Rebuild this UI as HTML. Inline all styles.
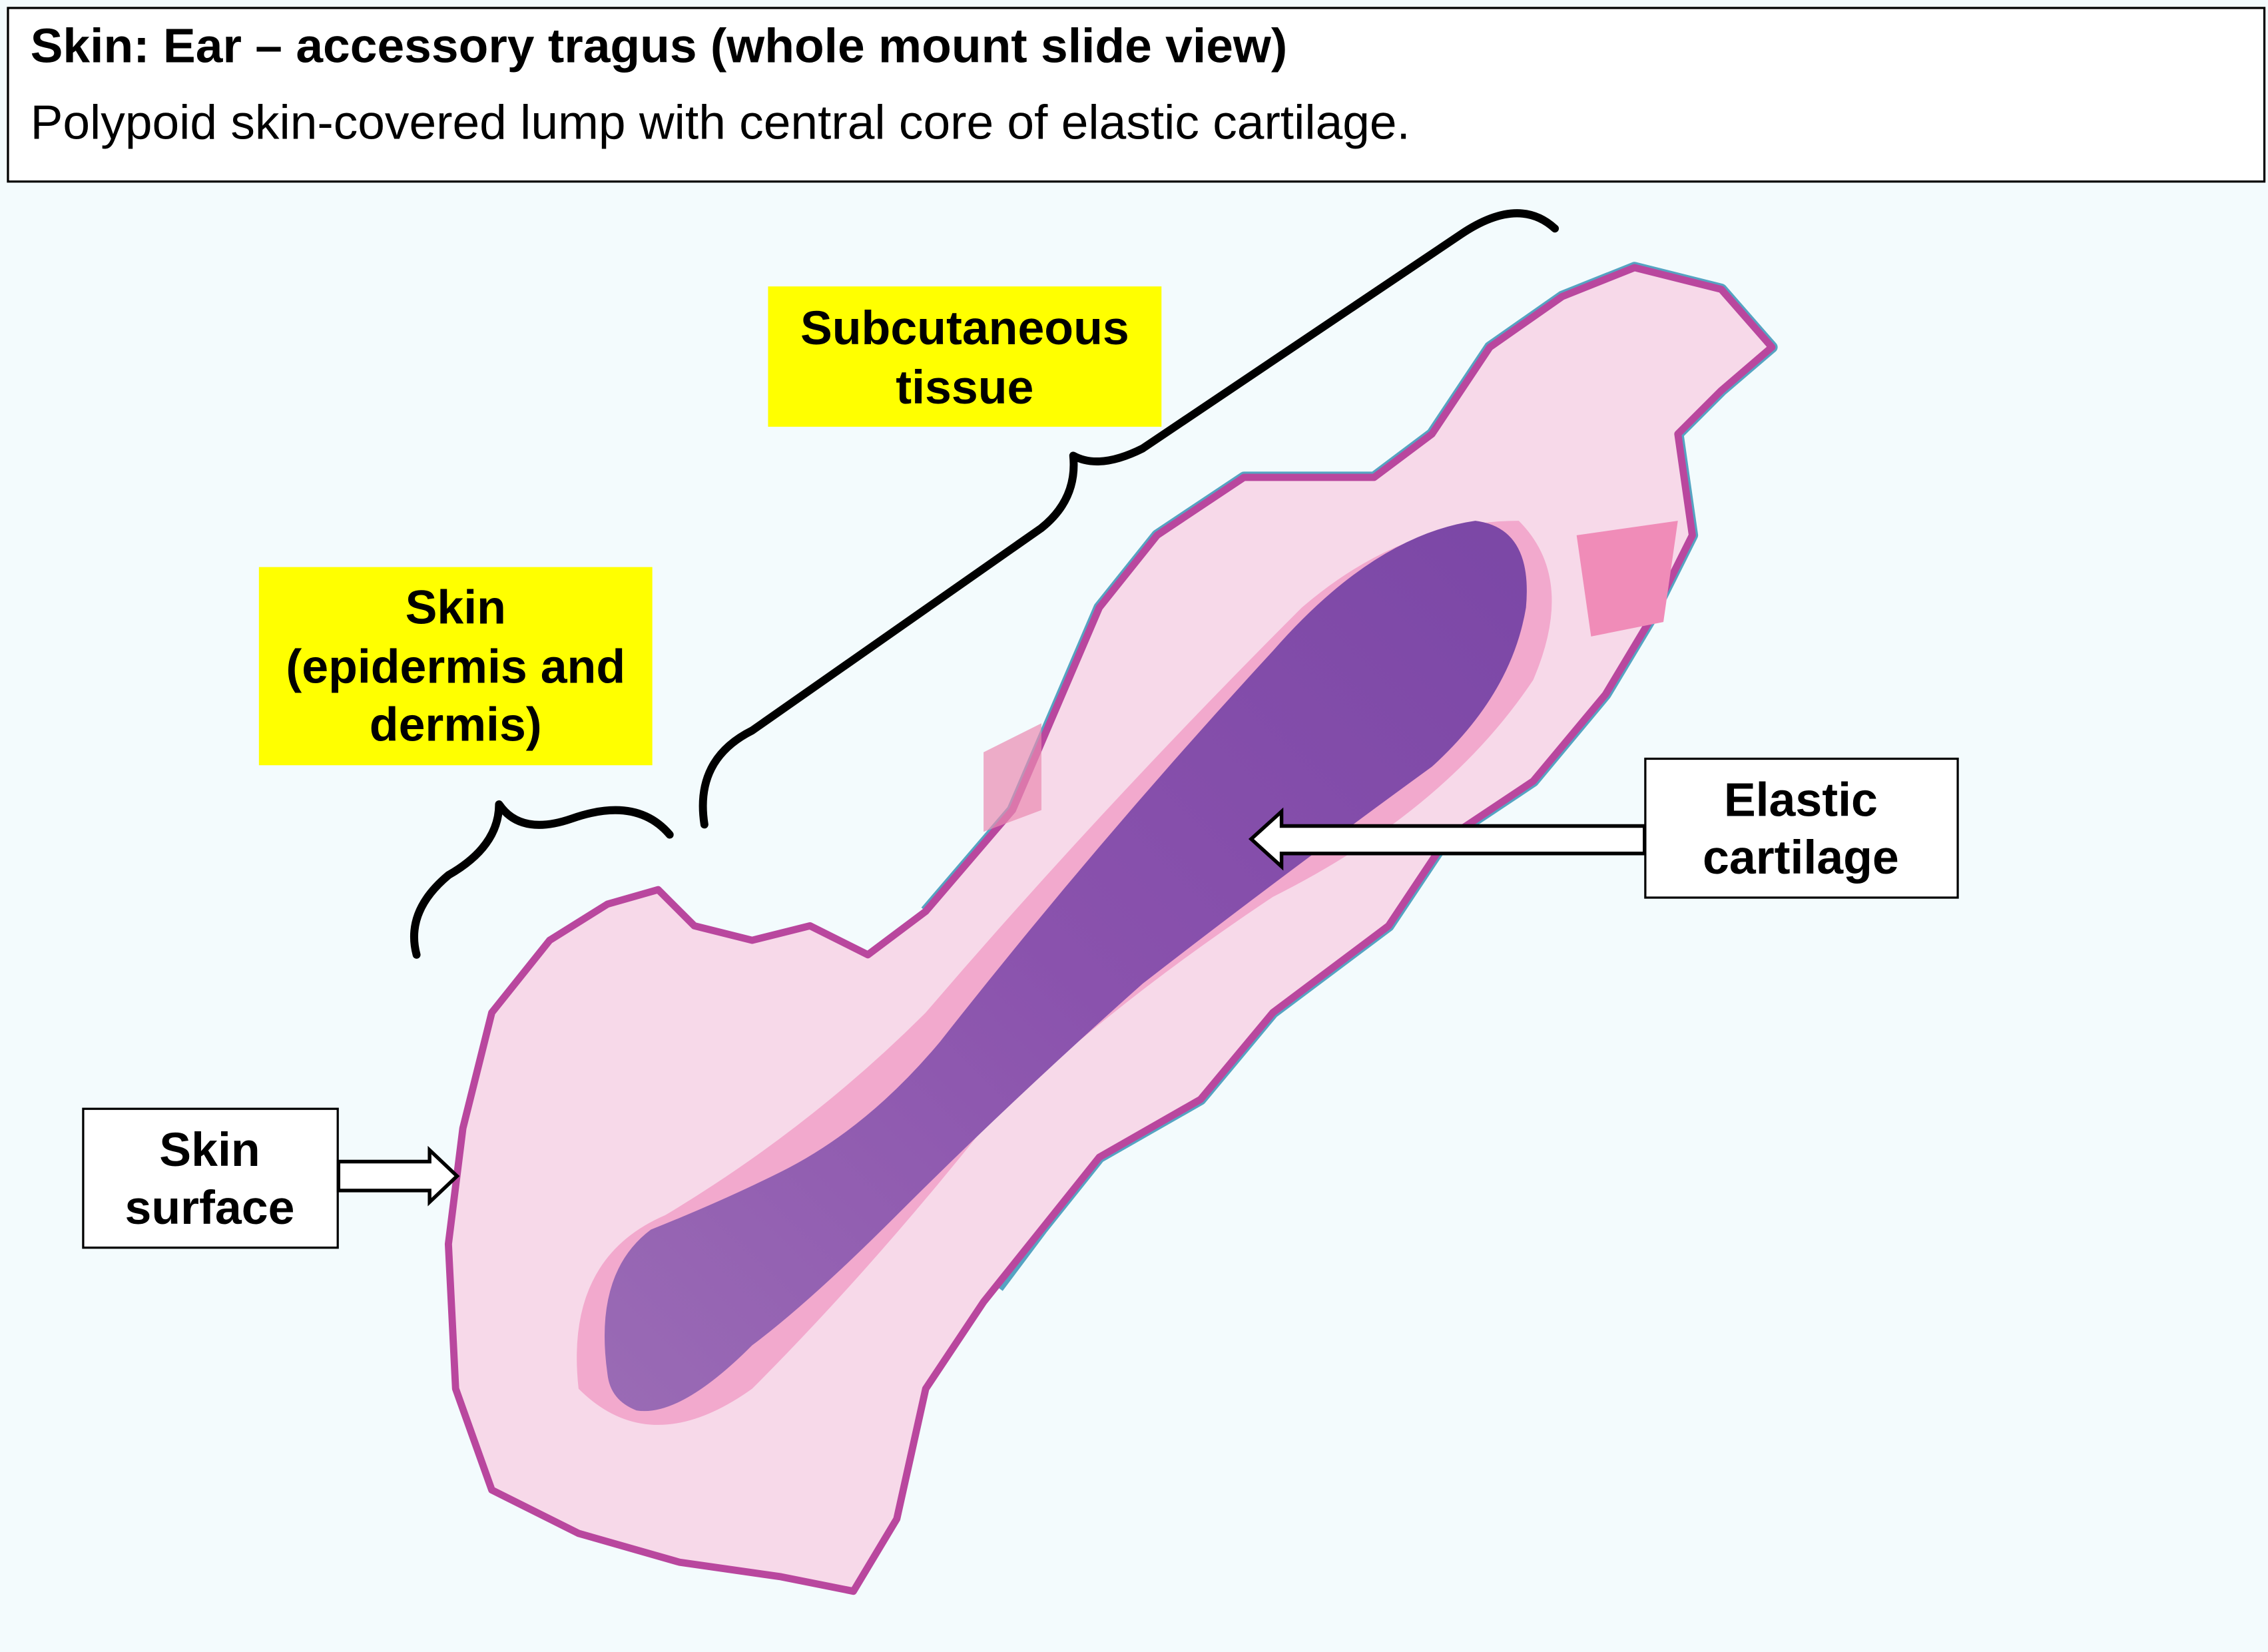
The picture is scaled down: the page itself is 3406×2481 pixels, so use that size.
<!DOCTYPE html>
<html><head><meta charset="utf-8"><style>
html,body{margin:0;padding:0;background:#f3fbfd;}
svg{display:block}
text{font-family:"Liberation Sans",Arial,sans-serif}
</style></head><body>
<svg width="3406" height="2481" viewBox="0 0 1568 1142" preserveAspectRatio="none" xmlns="http://www.w3.org/2000/svg">
<defs>
<linearGradient id="cart" x1="0" y1="1" x2="1" y2="0">
<stop offset="0" stop-color="#9a6bb5"/><stop offset="0.5" stop-color="#8a52ad"/><stop offset="1" stop-color="#7b47a6"/>
</linearGradient>
</defs>
<rect x="0" y="0" width="1568" height="1142" fill="#f3fbfd"/>
<path d="M640,630 L700,560 L760,420 L800,370 L860,330 L950,330 L990,300 L1030,240 L1080,205 L1130,185 L1190,200 L1225,240 L1190,270 L1160,300 L1170,370 L1140,430 L1110,480 L1060,540 L1000,580 L960,640 L880,700 L830,760 L760,800 L720,850 L690,890" fill="none" stroke="#2d8fb3" stroke-width="8" stroke-linejoin="round" opacity="0.8"/>
<path d="M420,625 L455,615 L480,640 L520,650 L560,640 L600,660 L640,630 L700,560 L760,420 L800,370 L860,330 L950,330 L990,300 L1030,240 L1080,205 L1130,185 L1190,200 L1225,240 L1190,270 L1160,300 L1170,370 L1140,430 L1110,480 L1060,540 L1000,580 L960,640 L880,700 L830,760 L760,800 L720,850 L680,900 L640,960 L620,1050 L590,1100 L540,1090 L470,1080 L400,1060 L340,1030 L315,960 L310,860 L320,780 L340,700 L380,650 Z" fill="#f7d9e9" stroke="#b9479e" stroke-width="5" stroke-linejoin="round"/>
<path d="M1090,370 L1160,360 L1150,430 L1100,440 Z" fill="#f08cb8"/>
<path d="M680,520 L720,500 L720,560 L680,575 Z" fill="#ea8ab0" opacity="0.7"/>
<path d="M400,960 Q390,870 460,840 Q560,780 640,700 Q760,560 900,420 Q970,360 1050,360 Q1090,400 1060,470 Q1000,560 880,620 Q760,700 680,780 Q600,880 520,960 Q450,1010 400,960 Z" fill="#f2a9cd"/>
<path d="M420,950 Q410,880 450,850 Q500,830 540,810 Q600,780 650,720 Q760,580 880,450 Q950,370 1020,360 Q1060,365 1055,420 Q1045,480 990,530 Q880,610 790,680 Q700,760 620,840 Q560,900 520,930 Q470,980 440,975 Q422,968 420,950 Z" fill="url(#cart)"/>
<path d="M487,570 Q480,525 520,505 L720,365 Q745,345 742,315 Q760,325 790,310 L1010,162 Q1050,135 1075,158" fill="none" stroke="#000" stroke-width="5.5" stroke-linecap="round" stroke-linejoin="round"/>
<path d="M288,660 Q280,630 310,605 Q345,585 345,556 Q360,578 395,566 Q440,550 463,577" fill="none" stroke="#000" stroke-width="5.5" stroke-linecap="round" stroke-linejoin="round"/>
<rect x="5.5" y="5.5" width="1560" height="120" fill="#fff" stroke="#000" stroke-width="1.5"/>
<text x="21" y="43" font-size="33.5" font-weight="bold" textLength="869" lengthAdjust="spacingAndGlyphs">Skin: Ear – accessory tragus (whole mount slide view)</text>
<text x="21" y="96" font-size="33.5" textLength="954" lengthAdjust="spacingAndGlyphs">Polypoid skin-covered lump with central core of elastic cartilage.</text>
<rect x="531" y="198" width="272" height="97" fill="#ffff00"/>
<text x="667" y="238" font-size="33" font-weight="bold" text-anchor="middle">Subcutaneous</text>
<text x="667" y="279" font-size="33" font-weight="bold" text-anchor="middle">tissue</text>
<rect x="179" y="392" width="272" height="137" fill="#ffff00"/>
<text x="315" y="431" font-size="33" font-weight="bold" text-anchor="middle">Skin</text>
<text x="315" y="472" font-size="33" font-weight="bold" text-anchor="middle">(epidermis and</text>
<text x="315" y="512" font-size="33" font-weight="bold" text-anchor="middle">dermis)</text>
<rect x="57.5" y="766.5" width="176" height="96" fill="#fff" stroke="#000" stroke-width="1.5"/>
<text x="145" y="806" font-size="33" font-weight="bold" text-anchor="middle">Skin</text>
<text x="145" y="846" font-size="33" font-weight="bold" text-anchor="middle">surface</text>
<rect x="1137.5" y="524.5" width="216" height="96" fill="#fff" stroke="#000" stroke-width="1.5"/>
<text x="1245" y="564" font-size="33" font-weight="bold" text-anchor="middle">Elastic</text>
<text x="1245" y="604" font-size="33" font-weight="bold" text-anchor="middle">cartilage</text>
<path d="M234,803 L297,803 L297,795 L316,813 L297,831 L297,823 L234,823 Z" fill="#fff" stroke="#000" stroke-width="2.5"/>
<path d="M1137,571 L886,571 L886,561 L865,580 L886,599 L886,590 L1137,590 Z" fill="#fff" stroke="#000" stroke-width="2.5"/>
</svg>
</body></html>
